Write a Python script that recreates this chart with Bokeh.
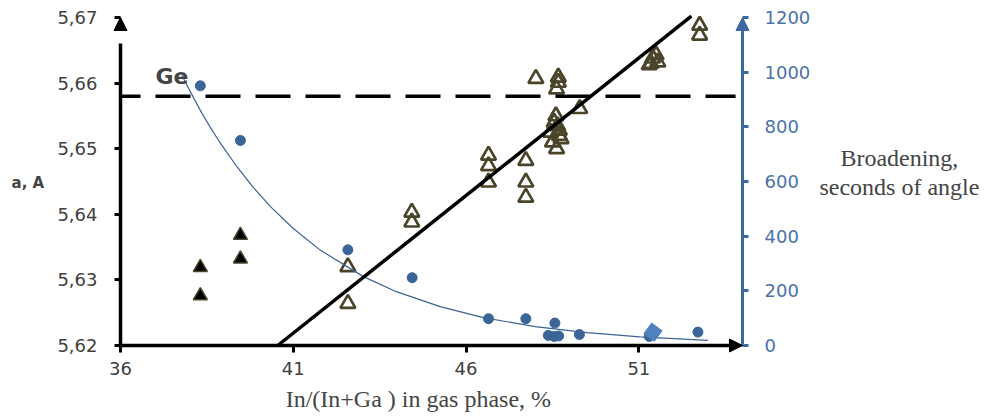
from bokeh.plotting import figure
from bokeh.models import Range1d, LinearAxis, FixedTicker, Arrow, NormalHead, Label
from bokeh.embed import file_html
from bokeh.resources import INLINE
import math

# ---------------- data ----------------
x_ticks = [36, 41, 46, 51]
a_ticks = [5.62, 5.63, 5.64, 5.65, 5.66, 5.67]
a_tick_labels = ["5,62", "5,63", "5,64", "5,65", "5,66", "5,67"]
b_ticks = [0, 200, 400, 600, 800, 1000, 1200]

# lattice parameter, filled triangles
x_filled = [38.31, 38.31, 39.47, 39.47]
a_filled = [5.6319, 5.6276, 5.6368, 5.6332]

# lattice parameter, open triangles
x_open = [42.58, 42.58, 44.43, 44.43, 46.65, 46.65, 46.65, 47.73, 47.73, 47.73,
          48.02, 48.67, 48.67, 48.62, 49.29, 48.45, 48.55, 48.60, 48.65, 48.70,
          48.75, 48.50, 48.62, 48.70, 51.30, 51.40, 51.50, 51.55, 51.35, 52.76, 52.76]
a_open = [5.6320, 5.6264, 5.6403, 5.6388, 5.6490, 5.6474, 5.6449, 5.6482, 5.6449, 5.6426,
          5.6607, 5.6609, 5.6601, 5.6591, 5.6561, 5.6525, 5.6540, 5.6550, 5.6535, 5.6520,
          5.6515, 5.6510, 5.6500, 5.6528, 5.6628, 5.6638, 5.6643, 5.6632, 5.6630, 5.6688, 5.6673]

# linear trend of lattice parameter
lin_x = [40.55, 52.52]
lin_a = [5.62, 5.6702]

# Ge lattice parameter (dashed)
ge_a = 5.658
ge_x = [36.0, 53.8]

# broadening, blue dots
x_b = [38.31, 39.47, 42.58, 44.44, 46.65, 47.73, 48.57, 48.38, 48.55, 48.68, 49.28, 51.30, 52.71]
b_val = [950, 750, 350, 248, 98, 98, 82, 37, 33, 35, 40, 33, 49]

# broadening, diamond
x_diam = [51.41]
b_diam = [49]

# exponential trend curve of broadening
trend_x = [37.78, 37.95, 38.12, 38.35, 38.60, 38.85, 39.37, 39.80, 40.34, 41.00,
           41.78, 43.03, 44.00, 45.25, 46.50, 48.00, 49.50, 51.03, 53.00]
trend_b = [988, 946, 905, 851, 798, 748, 654, 585, 508, 428,
           349, 252, 196, 142, 102, 69, 47, 31.5, 19]

# axis extents
x_min, x_max = 36, 54
a_min, a_max = 5.62, 5.67
b_min, b_max = 0, 1200

# ---------------- styling ----------------
OLIVE = "#4A452A"
DOT_BLUE = "#3B6497"
AXIS_BLUE = "#3C69A0"
LABEL_BLUE = "#4A72A8"
TICK_GREY = "#404040"

W, H = 982, 414
FL, FR, FT, FB = 120, 742, 17, 345          # pixel box of the axes inside the canvas
sx = (FR - FL) / (x_max - x_min)
sa = (FB - FT) / (a_max - a_min)
sb = (FB - FT) / (b_max - b_min)
x_range = Range1d(x_min - FL / sx, x_max + (W - FR) / sx)
a_range = Range1d(a_min - (H - FB) / sa, a_max + FT / sa)
b_range = Range1d(b_min - (H - FB) / sb, b_max + FT / sb)

p = figure(width=W, height=H, x_range=x_range, y_range=a_range,
           x_axis_type=None, y_axis_type=None,
           output_backend="svg", toolbar_location=None,
           min_border=0, min_border_left=0, min_border_right=0,
           min_border_top=0, min_border_bottom=0)
p.outline_line_color = None
p.grid.visible = False
p.background_fill_color = "white"
p.border_fill_color = "white"
p.extra_y_ranges = {"b": b_range}

def style_axis(ax, color, label_color):
    ax.axis_line_width = 3.5
    ax.axis_line_color = color
    ax.major_tick_line_width = 3
    ax.major_tick_line_color = color
    ax.major_tick_in = 0
    ax.major_tick_out = 6
    ax.minor_tick_line_color = None
    ax.major_label_text_font = "DejaVu Sans"
    ax.major_label_text_font_size = "18px"
    ax.major_label_text_color = label_color

xaxis = LinearAxis(ticker=FixedTicker(ticks=x_ticks), fixed_location=a_min)
style_axis(xaxis, "black", TICK_GREY)
xaxis.major_tick_out = 7
xaxis.major_label_standoff = 9
xaxis.bounds = (x_min, x_max - 0.3)
p.add_layout(xaxis, "below")

yaxis = LinearAxis(ticker=FixedTicker(ticks=a_ticks), fixed_location=x_min,
                   major_label_overrides={t: s for t, s in zip(a_ticks, a_tick_labels)})
style_axis(yaxis, "black", TICK_GREY)
yaxis.major_label_standoff = 17
yaxis.bounds = (a_min, a_max - 0.004)
p.add_layout(yaxis, "left")

raxis = LinearAxis(y_range_name="b", ticker=FixedTicker(ticks=b_ticks), fixed_location=x_max)
style_axis(raxis, AXIS_BLUE, LABEL_BLUE)
raxis.axis_line_width = 3
raxis.major_label_standoff = 16
raxis.bounds = (b_min, b_max - 20)
p.add_layout(raxis, "right")

# ---------------- glyphs ----------------
p.scatter(x_open, a_open, marker="triangle", size=15, fill_color=None,
          line_color=OLIVE, line_width=2.7)
p.scatter(x_filled, a_filled, marker="triangle", size=14, fill_color="black",
          line_color=OLIVE, line_width=1.5)

p.line(trend_x, trend_b, y_range_name="b", line_color="#3E6294", line_width=1.2)
p.line(lin_x, lin_a, line_color="black", line_width=3.5)
p.line(ge_x, [ge_a, ge_a], line_color="black", line_width=3.5,
       line_dash="35 15", line_dash_offset=15)

p.scatter(x_b, b_val, y_range_name="b", marker="circle", size=10,
          fill_color=DOT_BLUE, line_color=DOT_BLUE)
p.scatter(x_diam, b_diam, y_range_name="b", marker="square", size=13, angle=math.pi / 4 + 0.15,
          fill_color="#4F81BD", line_color="#4F81BD")

# ---------------- axis arrows ----------------
p.add_layout(Arrow(end=NormalHead(size=13, fill_color="black", line_color="black"),
                   x_start=x_min, y_start=5.66, x_end=x_min, y_end=a_max, line_alpha=0))
p.add_layout(Arrow(end=NormalHead(size=13, fill_color=AXIS_BLUE, line_color=AXIS_BLUE),
                   x_start=x_max, y_start=1100, x_end=x_max, y_end=b_max,
                   y_range_name="b", line_alpha=0))
p.add_layout(Arrow(end=NormalHead(size=13, fill_color="black", line_color="black"),
                   x_start=53.3, y_start=a_min, x_end=x_max, y_end=a_min, line_alpha=0))

# ---------------- texts ----------------
p.add_layout(Label(x=37.01, y=5.6610, text="Ge", text_font="DejaVu Sans",
                   text_font_style="bold", text_font_size="22px", text_baseline="alphabetic"))
p.add_layout(Label(x=33.32, y=5.6447, text="a, A", text_font="DejaVu Sans",
                   text_font_style="bold", text_font_size="15px",
                   text_align="center", text_baseline="middle"))
p.add_layout(Label(x=44.62, y=5.61192, text="In/(In+Ga ) in gas phase, %",
                   text_font="Liberation Serif", text_font_size="24px",
                   text_align="center", text_baseline="middle"))
p.add_layout(Label(x=58.54, y=5.64851, text="Broadening,",
                   text_font="Liberation Serif", text_font_size="24px",
                   text_align="center", text_baseline="middle"))
p.add_layout(Label(x=58.54, y=5.64409, text="seconds of angle",
                   text_font="Liberation Serif", text_font_size="24px",
                   text_align="center", text_baseline="middle"))

open("out.html", "w").write(file_html(p, INLINE))
